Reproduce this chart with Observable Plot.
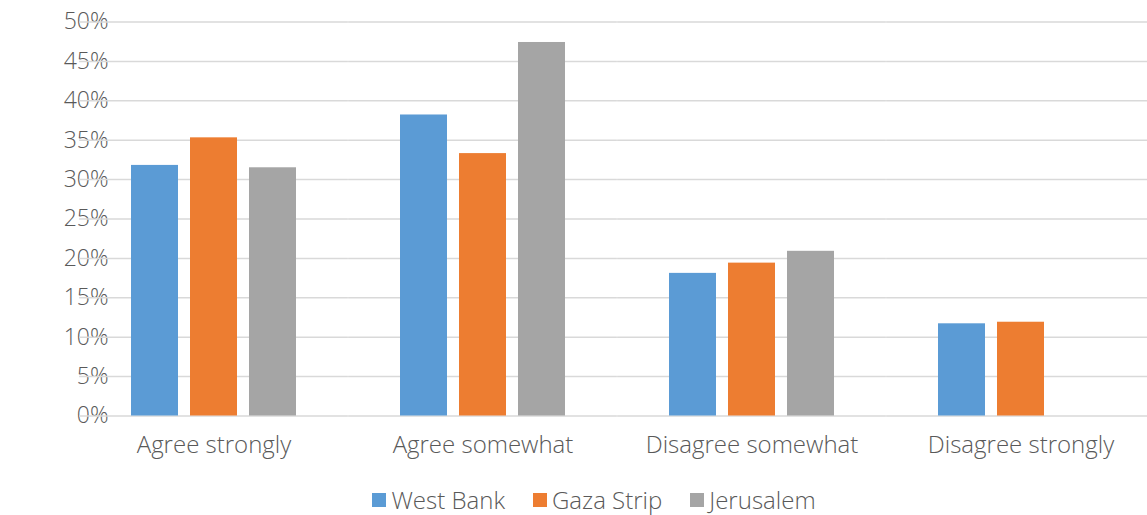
<!DOCTYPE html>
<html>
<head>
<meta charset="utf-8">
<script src="https://cdn.jsdelivr.net/npm/d3@7"></script>
<script src="https://cdn.jsdelivr.net/npm/@observablehq/plot@0.6"></script>
<style>
  html, body { margin: 0; padding: 0; background: #fff; }
  #chart { width: 1147px; height: 515px; position: relative; overflow: hidden; font-family: "Open Sans", Lato, sans-serif; }
  #chart svg text { font-weight: 300; }
  #chart svg g[aria-label="y-axis tick label"] { font-size: 23px; }
  #legend { display: flex; justify-content: center; align-items: center; gap: 28px; font-size: 24px; line-height: 28px; font-weight: 300; color: #595959; margin-left: 41px; margin-top: 14px; }
  #legend .item { display: flex; align-items: center; gap: 5px; }
  #legend .sw { width: 14px; height: 14px; display: inline-block; }
</style>
</head>
<body>
<div id="chart"></div>
<script>
const categories = ["Agree strongly", "Agree somewhat", "Disagree somewhat", "Disagree strongly"];
const series = ["West Bank", "Gaza Strip", "Jerusalem"];
const westBank = [31.8, 38.2, 18.1, 11.7];
const gazaStrip = [35.3, 33.3, 19.4, 11.9];
const jerusalem = [31.5, 47.4, 20.9, null];
const yTicks = [0, 5, 10, 15, 20, 25, 30, 35, 40, 45, 50];
const colors = ["#5B9BD5", "#ED7D31", "#A5A5A5"];

const seriesValues = [westBank, gazaStrip, jerusalem];
const data = [];
categories.forEach((c, i) => {
  series.forEach((s, j) => {
    const v = seriesValues[j][i];
    if (v != null) data.push({category: c, series: s, value: v / 100});
  });
});

// half the gap between groups, so per-facet grid rules join into continuous lines
const halfGap = 51.9;

const plot = Plot.plot({
  width: 1147,
  height: 472,
  marginLeft: 78,
  marginRight: -10,
  marginTop: 21.5,
  marginBottom: 56.5,
  style: {fontFamily: "'Open Sans', Lato, sans-serif", fontSize: "24px", color: "#595959", background: "#fff"},
  fx: {domain: categories, paddingInner: 0.385, paddingOuter: 0.1925, label: null, axis: "bottom", tickSize: 0, tickPadding: 20},
  x: {domain: series, paddingInner: 0.21, paddingOuter: 0, axis: null},
  y: {domain: [0, 0.5], ticks: yTicks.map(d => d / 100), tickFormat: d3.format(".0%"), tickSize: 0, tickPadding: 23, label: null},
  color: {domain: series, range: colors},
  marks: [
    Plot.ruleY(yTicks.map(d => d / 100), {stroke: "#d9d9d9", strokeWidth: 1.5, insetLeft: -halfGap, insetRight: -halfGap}),
    Plot.barY(data, {fx: "category", x: "series", y: "value", fill: "series"})
  ]
});
document.getElementById("chart").appendChild(plot);

const legend = document.createElement("div");
legend.id = "legend";
series.forEach((s, j) => {
  const item = document.createElement("div");
  item.className = "item";
  const sw = document.createElement("span");
  sw.className = "sw";
  sw.style.background = colors[j];
  const t = document.createElement("span");
  t.textContent = s;
  item.appendChild(sw);
  item.appendChild(t);
  legend.appendChild(item);
});
document.getElementById("chart").appendChild(legend);
</script>
</body>
</html>
